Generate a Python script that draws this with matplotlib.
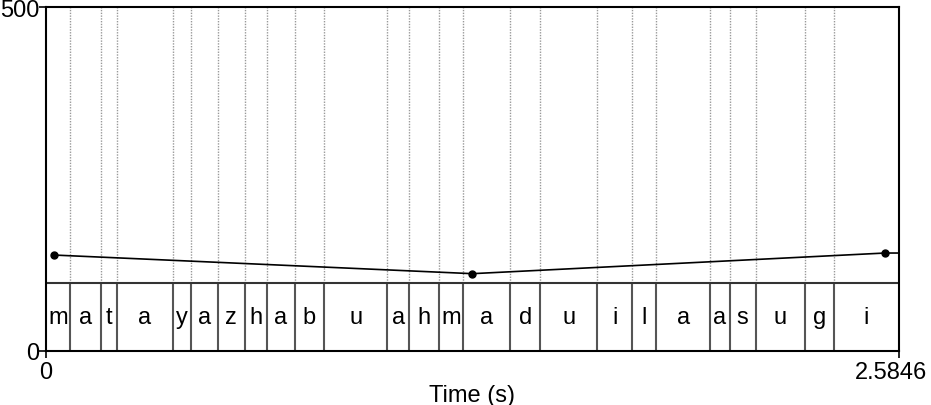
import numpy as np
from matplotlib import pyplot as plt
from matplotlib.transforms import ScaledTranslation

## textgrid tier: interval boundaries (s) and labels
t_end = 2.5846
bounds = [0.0718, 0.1657, 0.2160, 0.3839, 0.4384, 0.5203, 0.6021, 0.6705,
          0.7536, 0.8423, 1.0342, 1.1008, 1.1917, 1.2626, 1.4068, 1.4968,
          1.6705, 1.7765, 1.8492, 2.0128, 2.0716, 2.1504, 2.2998, 2.3876]
labels = ['m', 'a', 't', 'a', 'y', 'a', 'z', 'h', 'a', 'b', 'u', 'a', 'h',
          'm', 'a', 'd', 'u', 'i', 'l', 'a', 'a', 's', 'u', 'g', 'i']

## pitch tier points
pitch_t = [0.0233, 1.2917, 2.5422]
pitch_hz = [139.5, 112.4, 142.4]

tier_top = 99

plt.rcParams['font.family'] = ['Liberation Sans', 'DejaVu Sans']

fig = plt.figure(figsize=(9.31, 4.06), dpi=100)
ax = fig.add_axes([46/931, 1 - 352/406, 853/931, 344/406])

## boundaries: dotted above the tier, solid inside it
for b in bounds:
    ax.plot([b, b], [tier_top, 500], color='#999999', lw=1.0, ls=(0, (1, 1)))
    ax.plot([b, b], [0, tier_top], color='#555555', lw=1.5)
ax.axhline(tier_top, color='#333333', lw=1.5)

## labels centred in each interval
edges = [0.0] + bounds + [t_end]
for i in range(len(labels)):
    mid = (edges[i] + edges[i + 1]) / 2
    ax.text(mid, tier_top / 2, labels[i], ha='center', va='center', fontsize=17)

## pitch line, held constant after the last point
ax.plot(pitch_t + [t_end], pitch_hz + [pitch_hz[-1]], color='black', lw=1.2)
ax.plot(pitch_t, pitch_hz, 'o', color='black', ms=5)

ax.set_xlim(0, t_end)
ax.set_ylim(0, 500)
ax.set_xticks([0, t_end])
ax.set_xticklabels(['0', '2.5846'])
ax.set_yticks([0, 500])
ax.set_yticklabels(['0', '500'])
ax.tick_params(labelsize=17, length=5, width=1.2)
ax.tick_params(axis='x', pad=2)
ax.tick_params(axis='y', pad=0)
for s in ax.spines.values():
    s.set_linewidth(1.5)
ax.set_xlabel('Time (s)', fontsize=17, labelpad=1)

## keep the end time label inside the figure
lab = ax.get_xticklabels()[-1]
lab.set_transform(lab.get_transform() + ScaledTranslation(-6/72, 0, fig.dpi_scale_trans))

fig.savefig('out.png', dpi=100)
